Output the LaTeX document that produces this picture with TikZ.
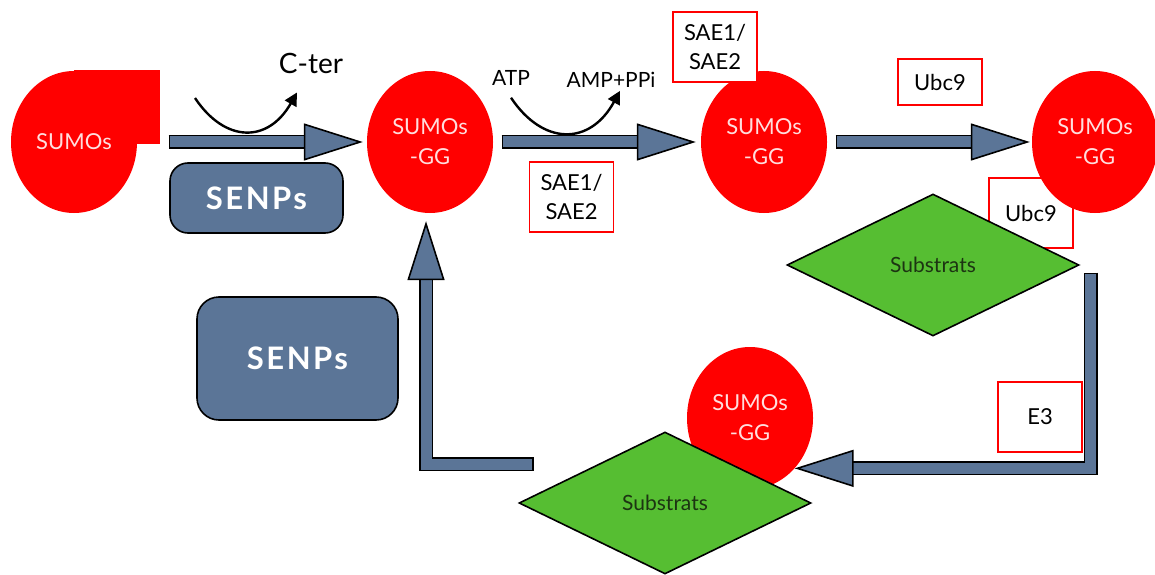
\documentclass[tikz,border=0pt]{standalone}
\usepackage{fontspec}
\setmainfont{Lato}
\usetikzlibrary{positioning,shapes.geometric,arrows.meta}

\definecolor{sumored}{RGB}{255,0,0}
\definecolor{senpblue}{RGB}{91,117,151}
\definecolor{subgreen}{RGB}{86,190,50}
\definecolor{sumotext}{RGB}{255,222,222}
\definecolor{subtext}{RGB}{28,52,18}

\begin{document}
\begin{tikzpicture}[x=1pt,y=1pt,
    sumo/.style={ellipse, fill=sumored, minimum width=126pt, minimum height=142pt,
        inner sep=0pt, text=sumotext, align=center, font=\fontsize{22}{30}\selectfont},
    enzyme/.style={draw=sumored, line width=1.8pt, fill=white, minimum width=84pt,
        minimum height=70pt, inner sep=0pt, align=center, font=\fontsize{22}{29}\selectfont},
    senps/.style={draw=black, line width=1.6pt, fill=senpblue, rounded corners=18pt,
        text=white, inner sep=0pt,
        font=\fontsize{31}{31}\selectfont\bfseries\addfontfeature{LetterSpace=8}},
    substrat/.style={diamond, draw=black, line width=1.6pt, fill=subgreen,
        minimum width=292pt, minimum height=142pt, inner sep=0pt, text=subtext,
        font=\fontsize{21}{21}\selectfont},
    chem/.style={inner sep=0pt, font=\fontsize{21}{21}\selectfont},
    curvy/.style={line width=2.4pt, -{Triangle[length=13pt,width=13pt]}},
    fatarrow/.style={line width=11pt, draw=senpblue, line join=miter,
        -{Triangle[length=59pt,width=37pt,fill=senpblue,color=black,line width=1.6pt]},
        preaction={draw=black, line width=14pt, -, shorten >=30pt, shorten <=-1.5pt}}
    ]

    \useasboundingbox (0,0) rectangle (1155,574);
    \fill[white] (0,0) rectangle (1155,574);

    % free SUMOs
    \fill[sumored] (74,430) rectangle (160,504);
    \node[sumo] (sumo) at (74,432) {SUMOs};

    % maturation by SENPs
    \node[senps, minimum width=173pt, minimum height=70pt] (senp1) at (256.5,376) {SENPs};
    \node[chem, font=\fontsize{28}{28}\selectfont] (cter) at (311,511) {C-ter};
    \coordinate (cut) at (195,476);
    \draw[curvy] (cut) .. controls +(30,-45) and +(-29,-51) .. ([xshift=-14pt,yshift=-19pt]cter.south);
    \node[sumo] (gg1) at (430,432) {SUMOs\\-GG};
    \draw[fatarrow] ([xshift=33pt]sumo.east) -- ([xshift=-4pt]gg1.west);

    % activation by SAE1/SAE2
    \node[chem] (atp) at (511,496) {ATP};
    \node[chem] (amp) at (611,494) {AMP+PPi};
    \draw[curvy] ([yshift=-12pt]atp.south) .. controls +(32,-48) and +(-30,-55) .. ([xshift=9pt,yshift=-3pt]amp.south);
    \node[enzyme] (sae1) at (571.5,377) {SAE1/\\SAE2};
    \node[sumo] (gg2) at (764,432) {SUMOs\\-GG};
    \node[enzyme] (sae2) at (715,527) {SAE1/\\SAE2};
    \draw[fatarrow] ([xshift=10pt]gg1.east) -- ([xshift=-5pt]gg2.west);

    % conjugation by Ubc9
    \node[enzyme, minimum height=46pt] (ubc1) at (940,492) {Ubc9};
    \node[enzyme] (ubc2) at (1031,361) {Ubc9};
    \node[sumo] (gg3) at (1095,432) {SUMOs\\-GG};
    \draw[fatarrow] ([xshift=10pt]gg2.east) -- ([xshift=-2pt]gg3.west);
    \node[substrat] (sub1) at (933,309) {Substrats};

    % transfer with E3
    \node[enzyme] (e3) at (1040,157) {E3};
    \node[sumo] (gg4) at (750,156) {SUMOs\\-GG};
    \node[substrat] (sub2) at (665,71) {Substrats};
    \draw[fatarrow] ([xshift=11pt,yshift=-9pt]sub1.east) |- (gg4.south east);

    % deconjugation by SENPs
    \node[senps, minimum width=201pt, minimum height=123pt, rounded corners=22pt] (senp2) at (297.5,215.5) {SENPs};
    \coordinate (back) at (532,110);
    \draw[fatarrow] (back) -| ([xshift=-4pt,yshift=-8pt]gg1.south);

\end{tikzpicture}
\end{document}
